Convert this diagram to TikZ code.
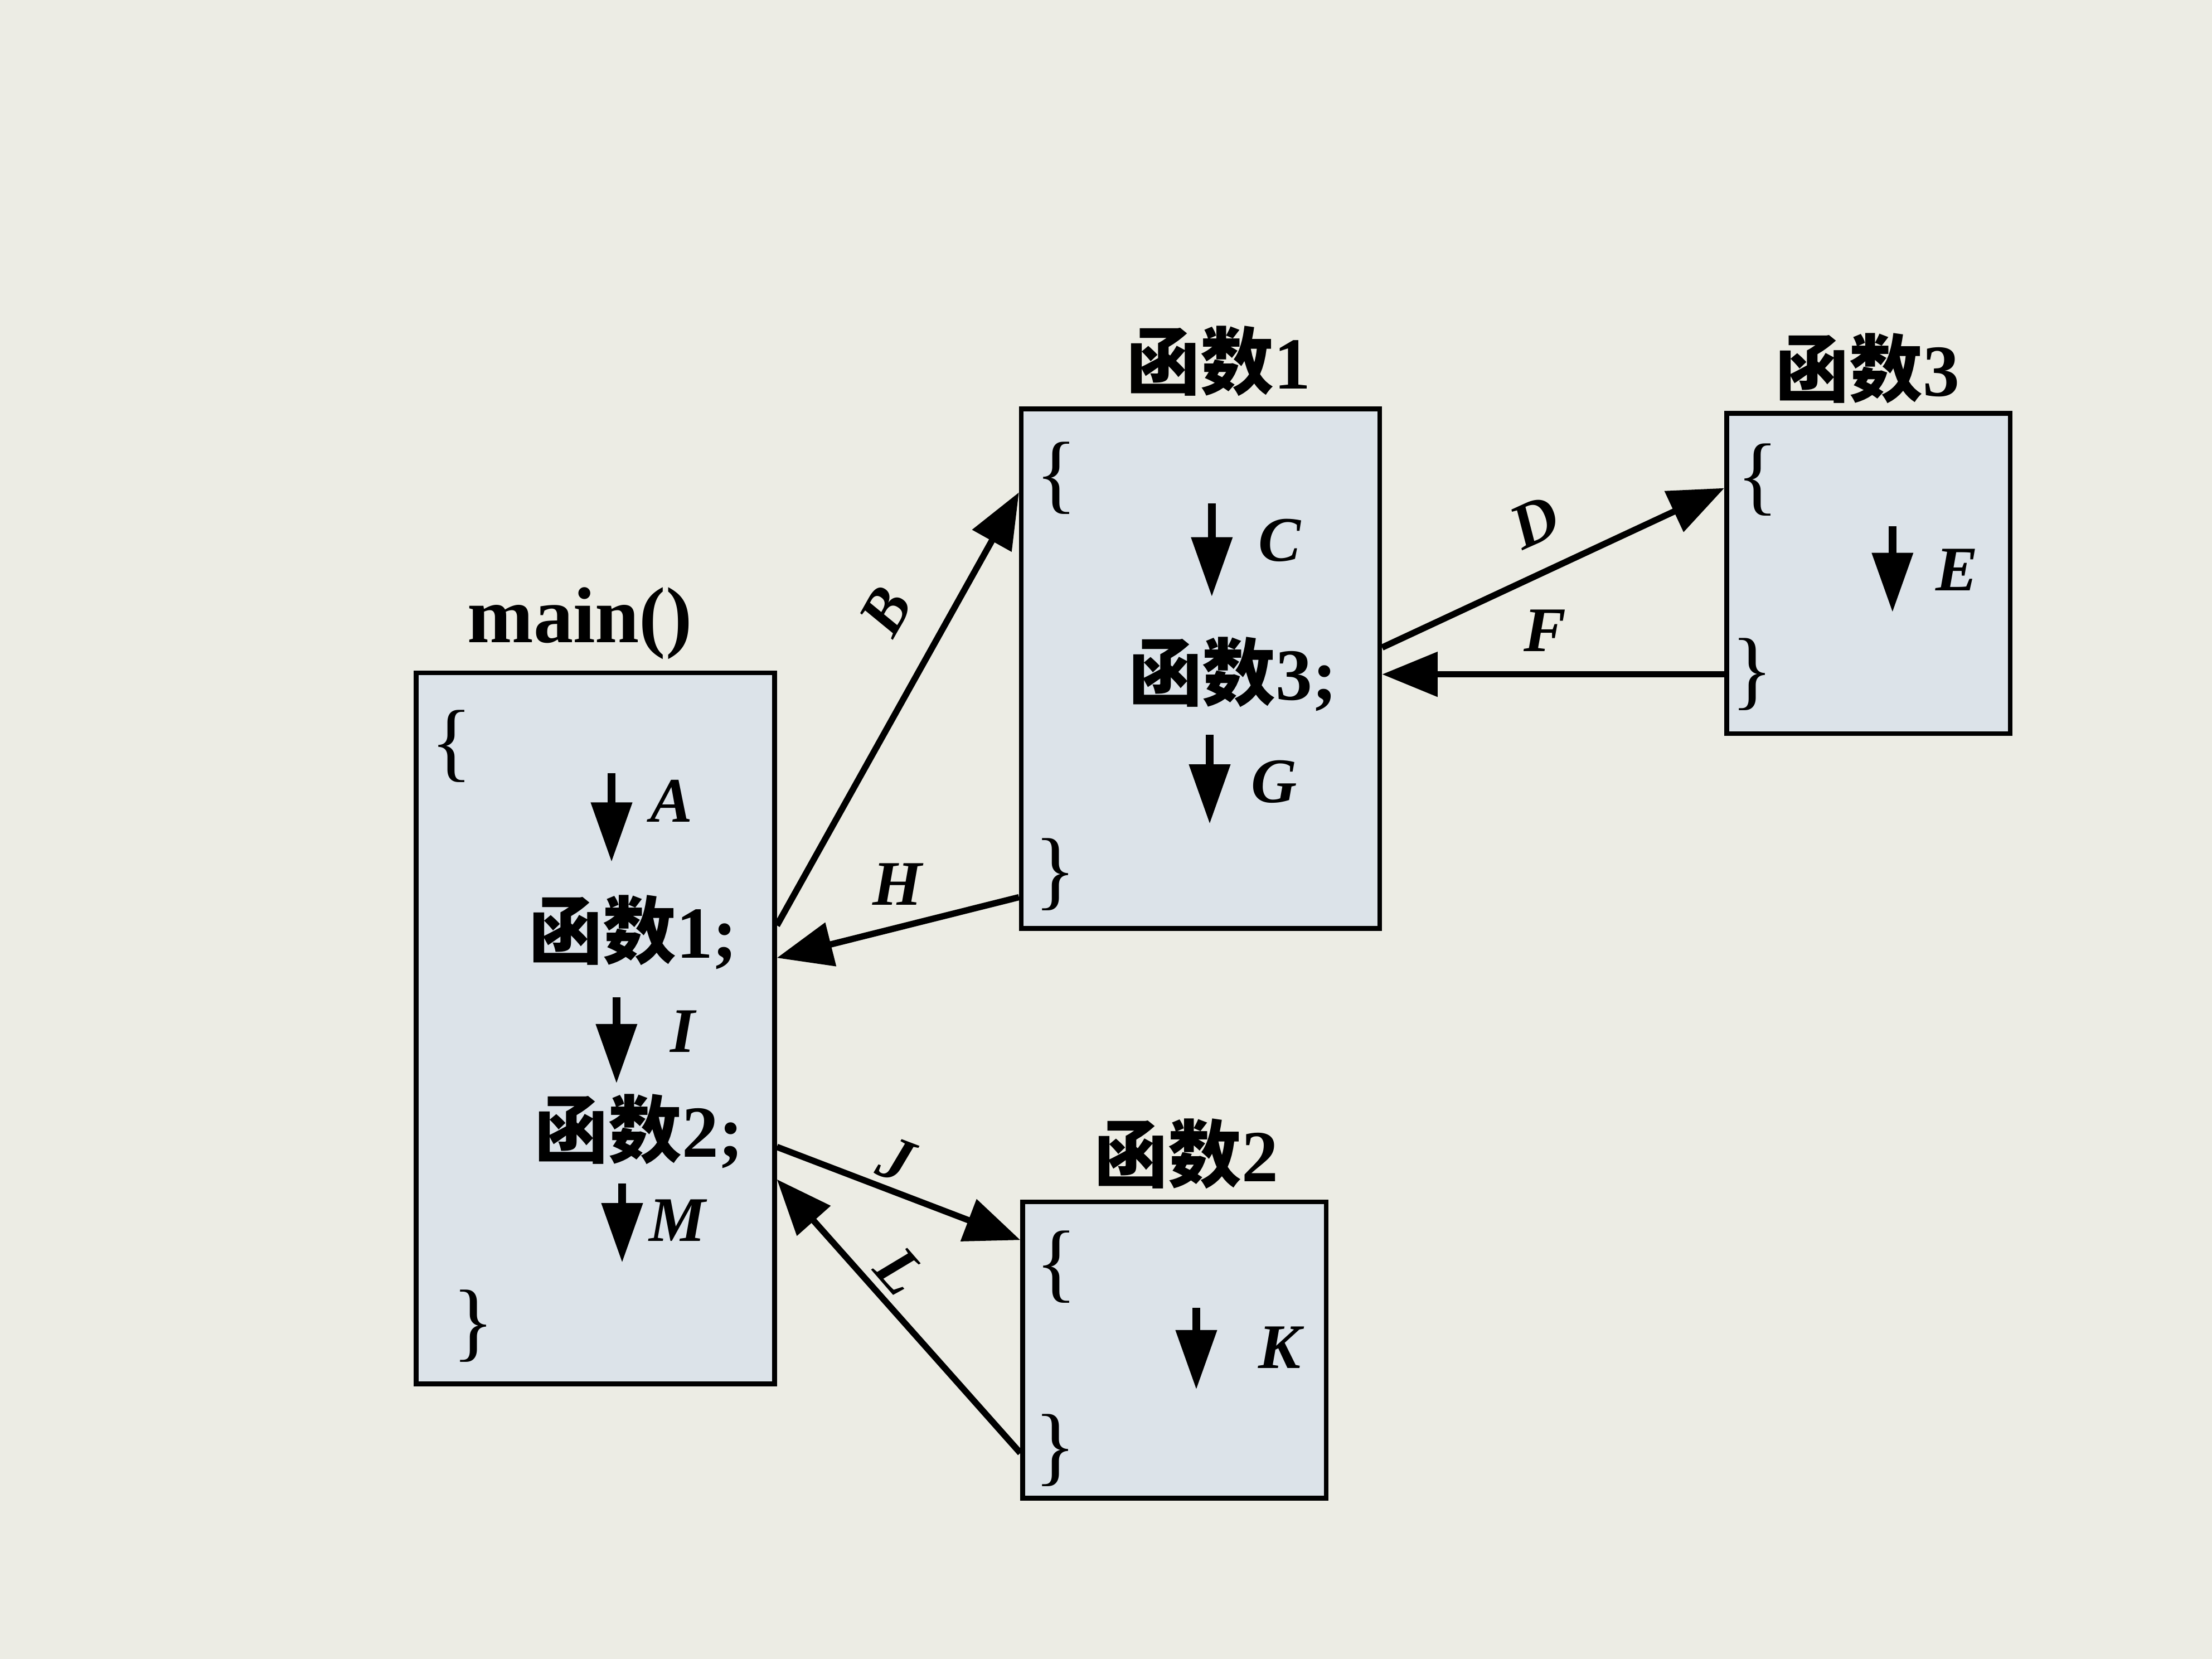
\documentclass[tikz,border=0pt]{standalone}
\usepackage{fontspec}
\setmainfont{Liberation Serif}
\newfontfamily\cjk{Noto Sans CJK SC}
\usetikzlibrary{arrows.meta}
\definecolor{bgcol}{HTML}{ECECE4}
\definecolor{boxfill}{HTML}{DCE3E9}
\newcommand\hanshu[1]{{\cjk\bfseries 函数}#1}
\begin{document}
\begin{tikzpicture}[x=0.025cm,y=-0.025cm,
  fbox/.style={draw=black, fill=boxfill, line width=2.4pt, inner sep=0pt},
  ttl/.style={font=\fontsize{37}{40}\selectfont\bfseries, inner sep=0pt},
  codeline/.style={font=\fontsize{37}{40}\selectfont\bfseries, inner sep=0pt},
  mainttl/.style={font=\fontsize{40}{44}\selectfont\bfseries, inner sep=0pt},
  lab/.style={font=\fontsize{32}{34}\selectfont\bfseries\itshape, inner sep=0pt},
  brc/.style={font=\fontsize{44}{46}\selectfont, inner sep=0pt},
  conn/.style={line width=3.2pt, -{Triangle[length=28pt,width=22pt]}},
  flow/.style={line width=3.8pt, -{Triangle[length=30pt,width=20pt]}}]
\fill[bgcol] (0,0) rectangle (1568,1176);
\useasboundingbox (0,0) rectangle (1568,1176);

% boxes
\node[fbox, minimum width=6.35cm, minimum height=12.6cm] (main) at (422,729) {};
\node[fbox, minimum width=6.35cm, minimum height=9.2cm] (f1) at (851,474) {};
\node[fbox, minimum width=5.025cm, minimum height=5.675cm] (f3) at (1324.5,406.5) {};
\node[fbox, minimum width=5.375cm, minimum height=5.25cm] (f2) at (832.5,957) {};

% titles
\node[mainttl] (tmain) at (411,442) {main()};
\node[ttl] (tf1) at (864,256) {\hanshu{1}};
\node[ttl] (tf3) at (1324,261) {\hanshu{3}};
\node[ttl] (tf2) at (841,818) {\hanshu{2}};

% main contents
\node[brc] (mo) at (320,529) {\{};
\node[brc] (mc) at (335.5,940) {\}};
\node[codeline] (c1) at (449,661) {\hanshu{1;}};
\node[codeline] (c2) at (453,802) {\hanshu{2;}};
\draw[flow] (433.5,548) -- (433.5,611);
\draw[flow] (437,707) -- (437,768);
\draw[flow] (441,839) -- (441,895);
\node[lab] (lA) at (476,568) {A};
\node[lab] (lI) at (484,731) {I};
\node[lab] (lM) at (480,865) {M};

% f1 contents
\node[brc] (f1o) at (749,339) {\{};
\node[brc] (f1c) at (748,620) {\}};
\node[codeline] (c3) at (874,478) {\hanshu{3;}};
\draw[flow] (859,357) -- (859,423);
\draw[flow] (857.5,521) -- (857.5,584);
\node[lab] (lC) at (907,383) {C};
\node[lab] (lG) at (903,554) {G};

% f3 contents
\node[brc] (f3o) at (1246,340) {\{};
\node[brc] (f3c) at (1242,478) {\}};
\draw[flow] (1341.5,373) -- (1341.5,434);
\node[lab] (lE) at (1387,404) {E};

% f2 contents
\node[brc] (f2o) at (749,898) {\{};
\node[brc] (f2c) at (748,1028) {\}};
\draw[flow] (848,927) -- (848,985);
\node[lab] (lK) at (907,955) {K};

% connectors
\draw[conn] (main.east |- 0,656) -- (f1.west |- 0,349);
\draw[conn] (f1.west |- 0,636) -- (main.east |- 0,679);
\draw[conn] (f1.east |- 0,459) -- (f3.west |- 0,346);
\draw[conn] (f3.west |- 0,478) -- (f1.east |- 0,478);
\draw[conn] (main.east |- 0,813) -- (f2.west |- 0,879);
\draw[conn] (f2.west |- 0,1030) -- (main.east |- 0,836);

% connector labels
\node[lab, rotate=60.6] (lB) at (628,433) {B};
\node[lab] (lH) at (636,627) {H};
\node[lab, rotate=24.5] (lD) at (1088,370) {D};
\node[lab] (lF) at (1095,447) {F};
\node[lab, rotate=-20.8] (lJ) at (635,822) {J};
\node[lab, rotate=-49] (lL) at (638,901) {L};
\end{tikzpicture}
\end{document}
